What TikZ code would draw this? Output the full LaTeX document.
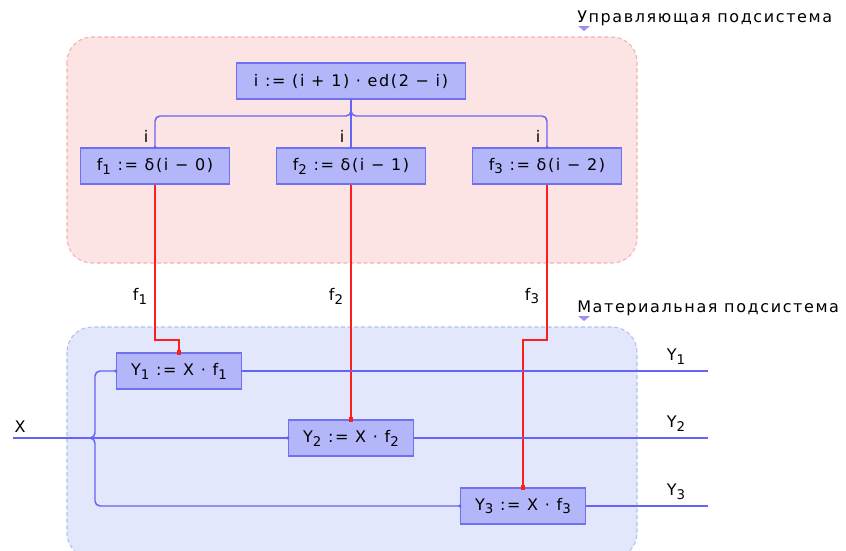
\documentclass[tikz,border=0pt]{standalone}
\usepackage{fontspec}
\setmainfont{DejaVu Sans}[LetterSpace=10]
\definecolor{boxfill}{RGB}{180,182,250}
\definecolor{boxline}{RGB}{112,112,240}
\definecolor{wireblue}{RGB}{100,100,245}
\definecolor{ctrlred}{RGB}{255,30,30}
\definecolor{pinkfill}{RGB}{253,228,228}
\definecolor{pinkline}{RGB}{246,176,176}
\definecolor{bluefill}{RGB}{227,231,251}
\definecolor{blueline}{RGB}{176,192,245}
\definecolor{trifill}{RGB}{165,140,240}
\newcommand\sbs[1]{\raisebox{-0.45ex}{\fontsize{10}{12}\selectfont #1}}
\begin{document}
\begin{tikzpicture}[x=0.75pt,y=-0.75pt,
  box/.style={draw=boxline, fill=boxfill, line width=1.1pt, minimum height=36*0.75pt, inner sep=0pt, font=\fontsize{12}{14}\selectfont},
  wire/.style={draw=wireblue, line width=1.1pt},
  ctrl/.style={draw=ctrlred, line width=1.1pt},
  lbl/.style={font=\fontsize{12}{14}\selectfont, inner sep=0pt},
  region/.style={dashed, dash pattern=on 3pt off 2pt, line width=0.8pt, rounded corners=25*0.75pt},
  rdot/.style={fill=ctrlred, inner sep=0pt, minimum size=4.5*0.75pt},
  bdot/.style={circle, fill=wireblue, inner sep=0pt, minimum size=3.5*0.75pt}]
\useasboundingbox (0,0) rectangle (846,550);
\fill[white] (0,0) rectangle (846,550);
% regions
\draw[region, draw=pinkline, fill=pinkfill] (67,37) rectangle (637,263);
\draw[region, draw=blueline, fill=bluefill] (67,327) rectangle (637,558);
\node[lbl, anchor=west] (lab1) at (577,18) {Управляющая подсистема};
\node[lbl, anchor=west] (lab2) at (577,308) {Материальная подсистема};
\fill[trifill] (578,26) -- (590,26) -- (584,31) -- cycle;
\fill[trifill] (578,316) -- (590,316) -- (584,321) -- cycle;
% control nodes
\node[box, minimum width=229*0.75pt] (top) at (351,81) {i := (i + 1) · ed(2 − i)};
\node[box, minimum width=149*0.75pt] (f1) at (155,166) {f\sbs{1} := δ(i − 0)};
\node[box, minimum width=149*0.75pt] (f2) at (351,166) {f\sbs{2} := δ(i − 1)};
\node[box, minimum width=149*0.75pt] (f3) at (547,166) {f\sbs{3} := δ(i − 2)};
% material nodes
\node[box, minimum width=125*0.75pt] (Y1) at (179,371) {Y\sbs{1} := X · f\sbs{1}};
\node[box, minimum width=125*0.75pt] (Y2) at (351,438) {Y\sbs{2} := X · f\sbs{2}};
\node[box, minimum width=125*0.75pt] (Y3) at (523,506) {Y\sbs{3} := X · f\sbs{3}};
% bus
\draw[wire, rounded corners=5*0.75pt] (top.south) -- (351,116) -| (f1.north);
\draw[wire, rounded corners=5*0.75pt] (top.south) -- (351,116) -| (f3.north);
\draw[wire] (top.south) -- (f2.north);
\node[bdot] at (f1.north) {};
\node[bdot] at (f2.north) {};
\node[bdot] at (f3.north) {};
\node[lbl] (i1) at (146,136) {i};
\node[lbl] (i2) at (342,136) {i};
\node[lbl] (i3) at (538,136) {i};
% control wires
\draw[ctrl] (f1.south) -- (155,340) -| (Y1.north);
\draw[ctrl] (f2.south) -- (Y2.north);
\draw[ctrl] (f3.south) -- (547,340) -| (Y3.north);
\node[rdot] at (Y1.north) {};
\node[rdot] at (Y2.north) {};
\node[rdot] at (Y3.north) {};
\node[lbl] (lf1) at (140,296) {f\sbs{1}};
\node[lbl] (lf2) at (336,296) {f\sbs{2}};
\node[lbl] (lf3) at (532,296) {f\sbs{3}};
% input X
\coordinate (xin) at (13,438);
\coordinate (brL) at (89,438);
\draw[wire] (xin) -- (Y2.west);
\draw[wire, rounded corners=5*0.75pt] (Y1.west) -| (95,438) -- (brL);
\draw[wire, rounded corners=5*0.75pt] (Y3.west) -| (95,438) -- (brL);
\node[bdot] at (Y1.west) {};
\node[bdot] at (Y2.west) {};
\node[bdot] at (Y3.west) {};
\node[lbl] (lx) at (20,427) {X};
% outputs
\coordinate (o1) at (708,371);
\coordinate (o2) at (708,438);
\coordinate (o3) at (708,506);
\draw[wire] (Y1.east) -- (o1);
\draw[wire] (Y2.east) -- (o2);
\draw[wire] (Y3.east) -- (o3);
\node[lbl] (ly1) at (676,357) {Y\sbs{1}};
\node[lbl] (ly2) at (676,424) {Y\sbs{2}};
\node[lbl] (ly3) at (676,492) {Y\sbs{3}};
\end{tikzpicture}
\end{document}
